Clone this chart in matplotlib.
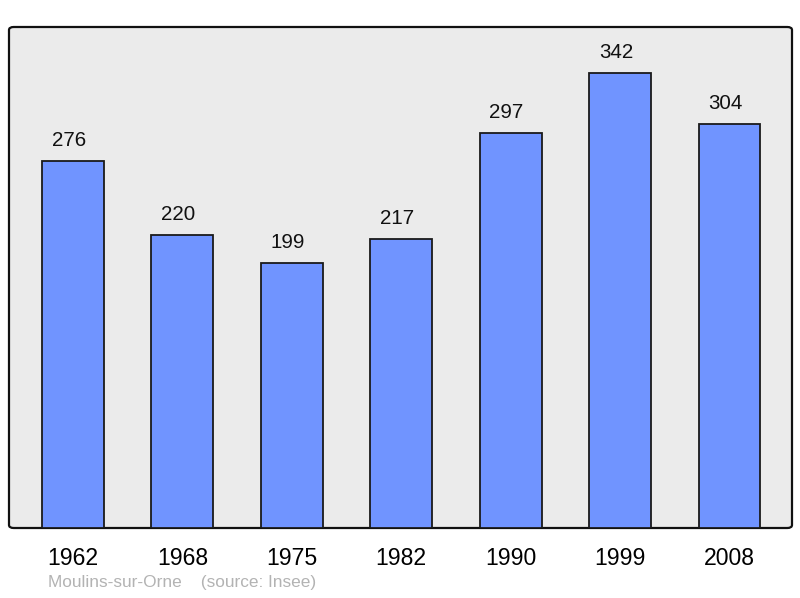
import matplotlib.pyplot as plt
from matplotlib.patches import FancyBboxPatch

plt.rcParams['font.family'] = ['Liberation Sans', 'DejaVu Sans']

years = ['1962', '1968', '1975', '1982', '1990', '1999', '2008']
population = [276, 220, 199, 217, 297, 342, 304]

fig = plt.figure(figsize=(8, 5.98), dpi=100)
# axes box in pixels: x 9..792, y 27..528 (from top)
ax = fig.add_axes([9 / 800, (598 - 528) / 598, 783 / 800, 501 / 598])
ax.set_facecolor('none')

x = list(range(len(years)))
bars = ax.bar(x, population, width=0.566, color='#7094ff', edgecolor='#1a1a1a',
              linewidth=1.3, zorder=3)

for xi, v in zip(x, population):
    ax.annotate(str(v), (xi, v), xytext=(-3, 14.8), textcoords='offset points',
                ha='center', va='center', fontsize=14.8, color='#111111')

ax.set_xlim(-0.584, 6.571)
ax.set_ylim(0, 376.6)
ax.set_xticks(x)
ax.set_xticklabels(years, fontsize=16.6)
ax.tick_params(axis='x', length=0, pad=14)
ax.set_yticks([])
for s in ax.spines.values():
    s.set_visible(False)

# background frame with slightly rounded corners
frame = FancyBboxPatch((0, 0), 1, 1, boxstyle='round,pad=0,rounding_size=0.006',
                       transform=ax.transAxes, facecolor='#ebebeb',
                       edgecolor='#111111', linewidth=1.6, zorder=0, clip_on=False)
ax.add_patch(frame)

fig.text(48 / 800, 1 - 583 / 598, 'Moulins-sur-Orne    (source: Insee)',
         fontsize=12.4, color='#b3b3b3', va='center', ha='left')

fig.savefig('out.png', dpi=100, facecolor='white')
